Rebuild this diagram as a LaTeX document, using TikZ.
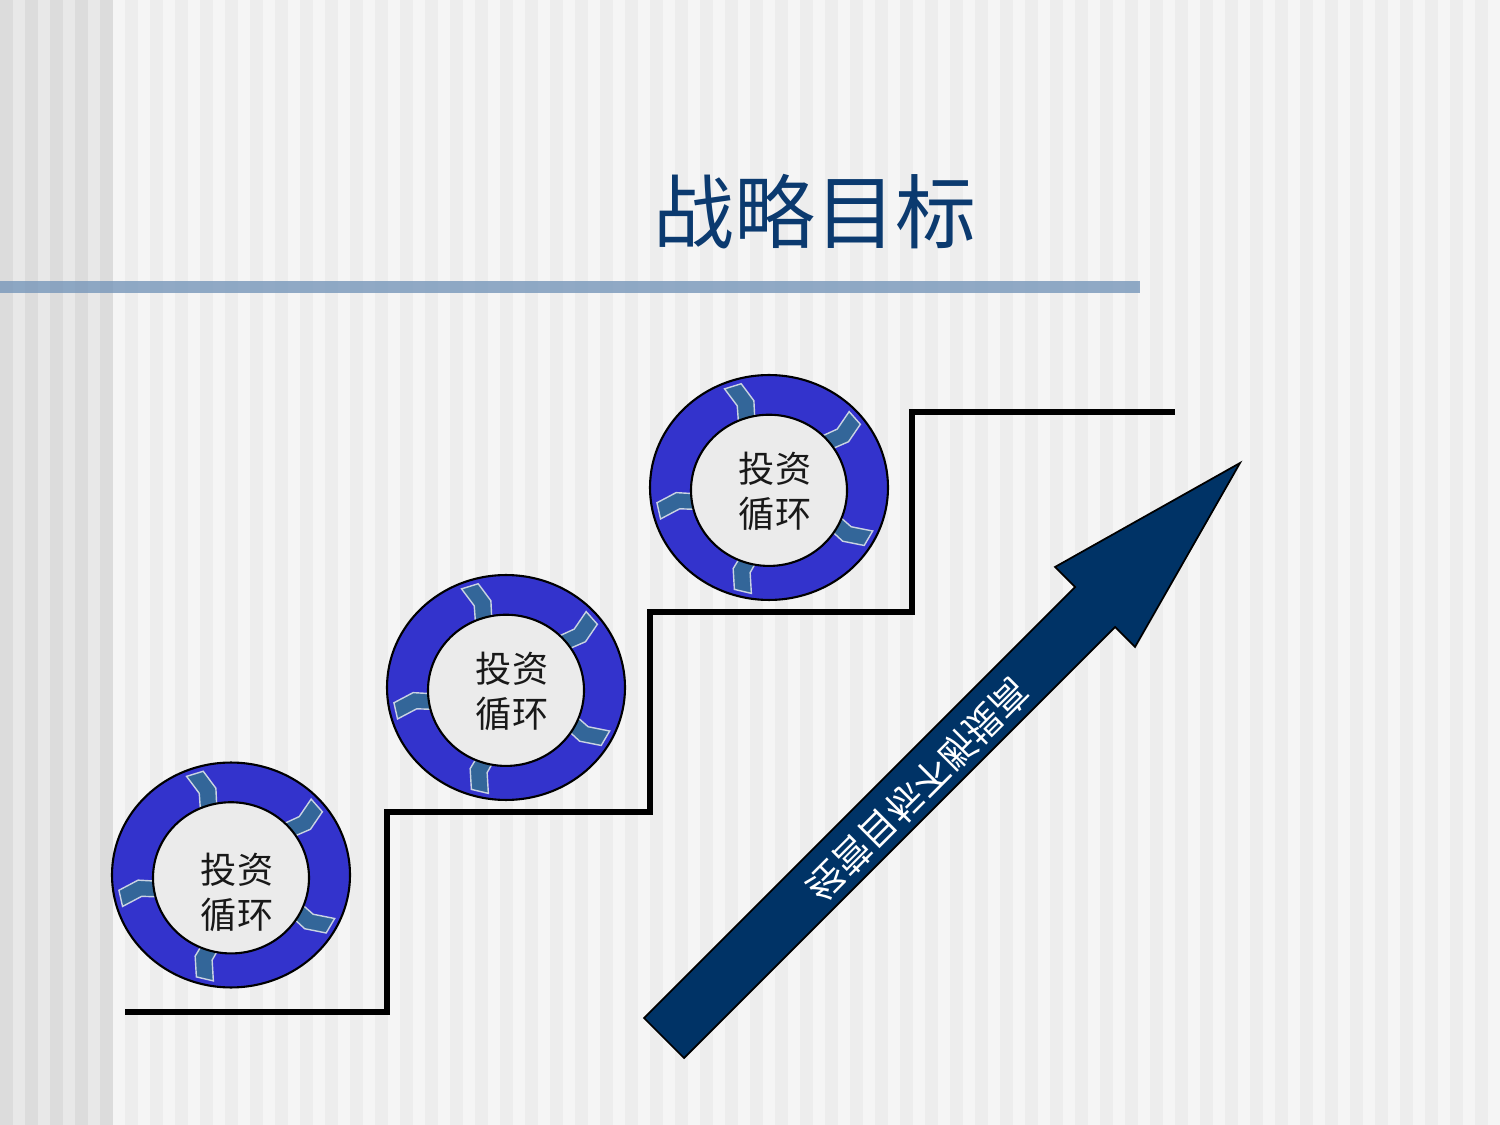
\documentclass[tikz,border=0pt]{standalone}
\usepackage{fontspec}
\usepackage{xcolor}
\usepackage{graphicx}
\usepackage{tikz}
\newfontfamily\cjk{Noto Sans CJK SC}
\definecolor{darkstripe}{HTML}{DCDCDC}
\definecolor{midstripe}{HTML}{E8E8E8}
\definecolor{palestripe}{HTML}{EDEDED}
\definecolor{paper}{HTML}{F5F5F5}
\definecolor{rulecolor}{HTML}{7797BA}
\definecolor{titleblue}{HTML}{0B3A6F}
\definecolor{ringblue}{HTML}{3333CC}
\definecolor{hubgrey}{HTML}{EBEBEB}
\definecolor{chevblue}{HTML}{336699}
\definecolor{chevedge}{HTML}{C9D3E2}
\definecolor{navy}{HTML}{003366}

\begin{document}
\begin{tikzpicture}[
    x=0.01cm, y=-0.01cm,
    ring/.style={fill=ringblue, draw=black, line width=0.6pt},
    hub/.style={fill=hubgrey, draw=black, line width=0.6pt},
    chevron/.style={fill=chevblue, draw=chevedge, line width=0.4pt},
    cycletext/.style={font=\cjk\fontsize{10.3}{12.8}\selectfont, align=center,
                      text=black!90, inner sep=0pt},
    heading/.style={font=\cjk\fontsize{23}{26}\selectfont, text=titleblue, inner sep=0pt},
    stair/.style={line width=1.6pt, line join=miter},
    bigarrow/.style={fill=navy, draw=black, line width=0.5pt, line join=miter},
    arrowtext/.style={font=\cjk\fontsize{10.5}{13}\selectfont, text=white, rotate=45,
                      inner sep=0pt}
  ]
    \useasboundingbox (0,0) rectangle (1500,1125);
    % background stripes
    \fill[midstripe] (0,0) rectangle (112.5,1125);
    \fill[paper] (112.5,0) rectangle (1500,1125);
    \foreach \k in {0,...,4}
      \fill[darkstripe] (\k*25,0) rectangle ++(12.5,1125);
    \foreach \k in {0,...,54}
      \fill[palestripe] (125+\k*25,0) rectangle ++(12.5,1125);
    \fill[rulecolor, opacity=0.8] (0,281.5) rectangle (1140,293.5);

    \node[heading] (title) at (815,212) {战略目标};

    % steps
    \draw[stair] (125,1012) -| (387,812) -| (650,612) -| (912,412) -- (1175,412);

    % investment cycles
    \foreach \name/\cx/\cy/\ty in {cycleA/231/875/17, cycleB/506/687.5/4, cycleC/769/487.5/4} {
      \begin{scope}[shift={(\cx,\cy)}, yscale=0.945]
        \draw[ring] (0,0) circle (119);
        \foreach \a in {108,40,-29,-104,192}
          \draw[chevron, rotate=\a] (72,8.5) -- (92,14) -- (113,7.5) -- (113,-10)
            -- (92,-3.5) -- (72,-8.5) -- cycle;
        \draw[hub] (0,3) ellipse [x radius=78, y radius=80];
      \end{scope}
      \node[cycletext] (\name) at (\cx+6,\cy+\ty) {投资\\循环};
    }

    % rising arrow
    \draw[bigarrow] (644,1018) -- (1075,587) -- (1055,567) -- (1240,463) -- (1135,647)
      -- (1115,627) -- (684,1058) -- cycle;
    \node[arrowtext] (goal) at (918,790) {\scalebox{1}[-1]{经营目标不断提高}};
\end{tikzpicture}
\end{document}
